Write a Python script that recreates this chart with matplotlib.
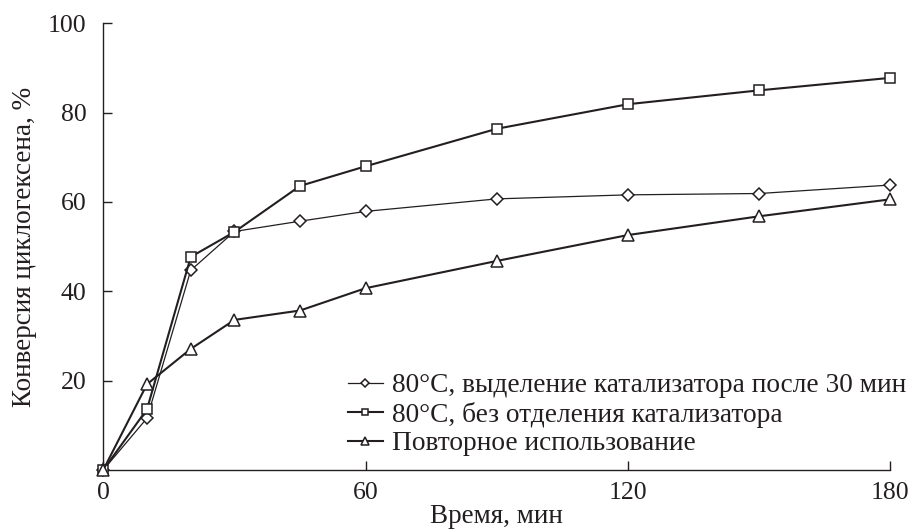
import matplotlib
matplotlib.use("Agg")
import matplotlib.pyplot as plt

plt.rcParams["font.family"] = ["Liberation Serif", "DejaVu Serif"]
plt.rcParams["font.size"] = 18.5

# time points, min
time_min = [0, 10, 20, 30, 45, 60, 90, 120, 150, 180]

# cyclohexene conversion, %
conv_separated = [0, 11.6, 44.7, 53.4, 55.7, 57.9, 60.7, 61.6, 61.9, 63.8]
conv_no_separation = [0, 13.6, 47.7, 53.3, 63.6, 68.0, 76.4, 81.9, 85.0, 87.8]
conv_reuse = [0, 19.2, 27.1, 33.6, 35.7, 40.7, 46.8, 52.6, 56.8, 60.6]

labels = [
    "80°C, выделение катализатора после 30 мин",
    "80°C, без отделения катализатора",
    "Повторное использование",
]

x_ticks = [0, 60, 120, 180]
y_ticks = [20, 40, 60, 80, 100]

ink = "#231f20"

fig = plt.figure(figsize=(9.1, 5.31), dpi=100)
ax = fig.add_axes([0.1135, 0.115, 0.865, 0.841])

ax.plot(time_min, conv_separated, color=ink, lw=0.9, marker="D", ms=6.3,
        mfc="white", mec=ink, mew=1.1, label=labels[0], zorder=3, clip_on=False)
ax.plot(time_min, conv_no_separation, color=ink, lw=1.5, marker="s", ms=7.5,
        mfc="white", mec=ink, mew=1.1, label=labels[1], zorder=3, clip_on=False)
ax.plot(time_min, conv_reuse, color=ink, lw=1.5, marker="^", ms=8.5,
        mfc="white", mec=ink, mew=1.1, label=labels[2], zorder=4, clip_on=False)

ax.set_xlim(0, 180)
ax.set_ylim(0, 100)
ax.set_xticks(x_ticks)
ax.set_yticks(y_ticks)

for side in ("top", "right"):
    ax.spines[side].set_visible(False)
for side in ("left", "bottom"):
    ax.spines[side].set_color(ink)
    ax.spines[side].set_linewidth(1.0)

ax.tick_params(axis="both", direction="in", length=6.5, width=1.0,
               color=ink, labelcolor=ink)
ax.tick_params(axis="y", pad=12)
ax.tick_params(axis="x", pad=9)

ax.set_xlabel("Время, мин", color=ink, fontsize=19.5, labelpad=0)
ax.set_ylabel("Конверсия циклогексена, %", color=ink, fontsize=19.5, labelpad=8)

leg = ax.legend(loc="upper left", bbox_to_anchor=(0.382, 0.297),
                bbox_transform=fig.transFigure, frameon=False, borderpad=0,
                handlelength=1.3, handletextpad=0.33, labelspacing=0.12,
                markerscale=0.6, borderaxespad=0, fontsize=19.7)
for t in leg.get_texts():
    t.set_color(ink)

fig.savefig("out.png", dpi=100)
